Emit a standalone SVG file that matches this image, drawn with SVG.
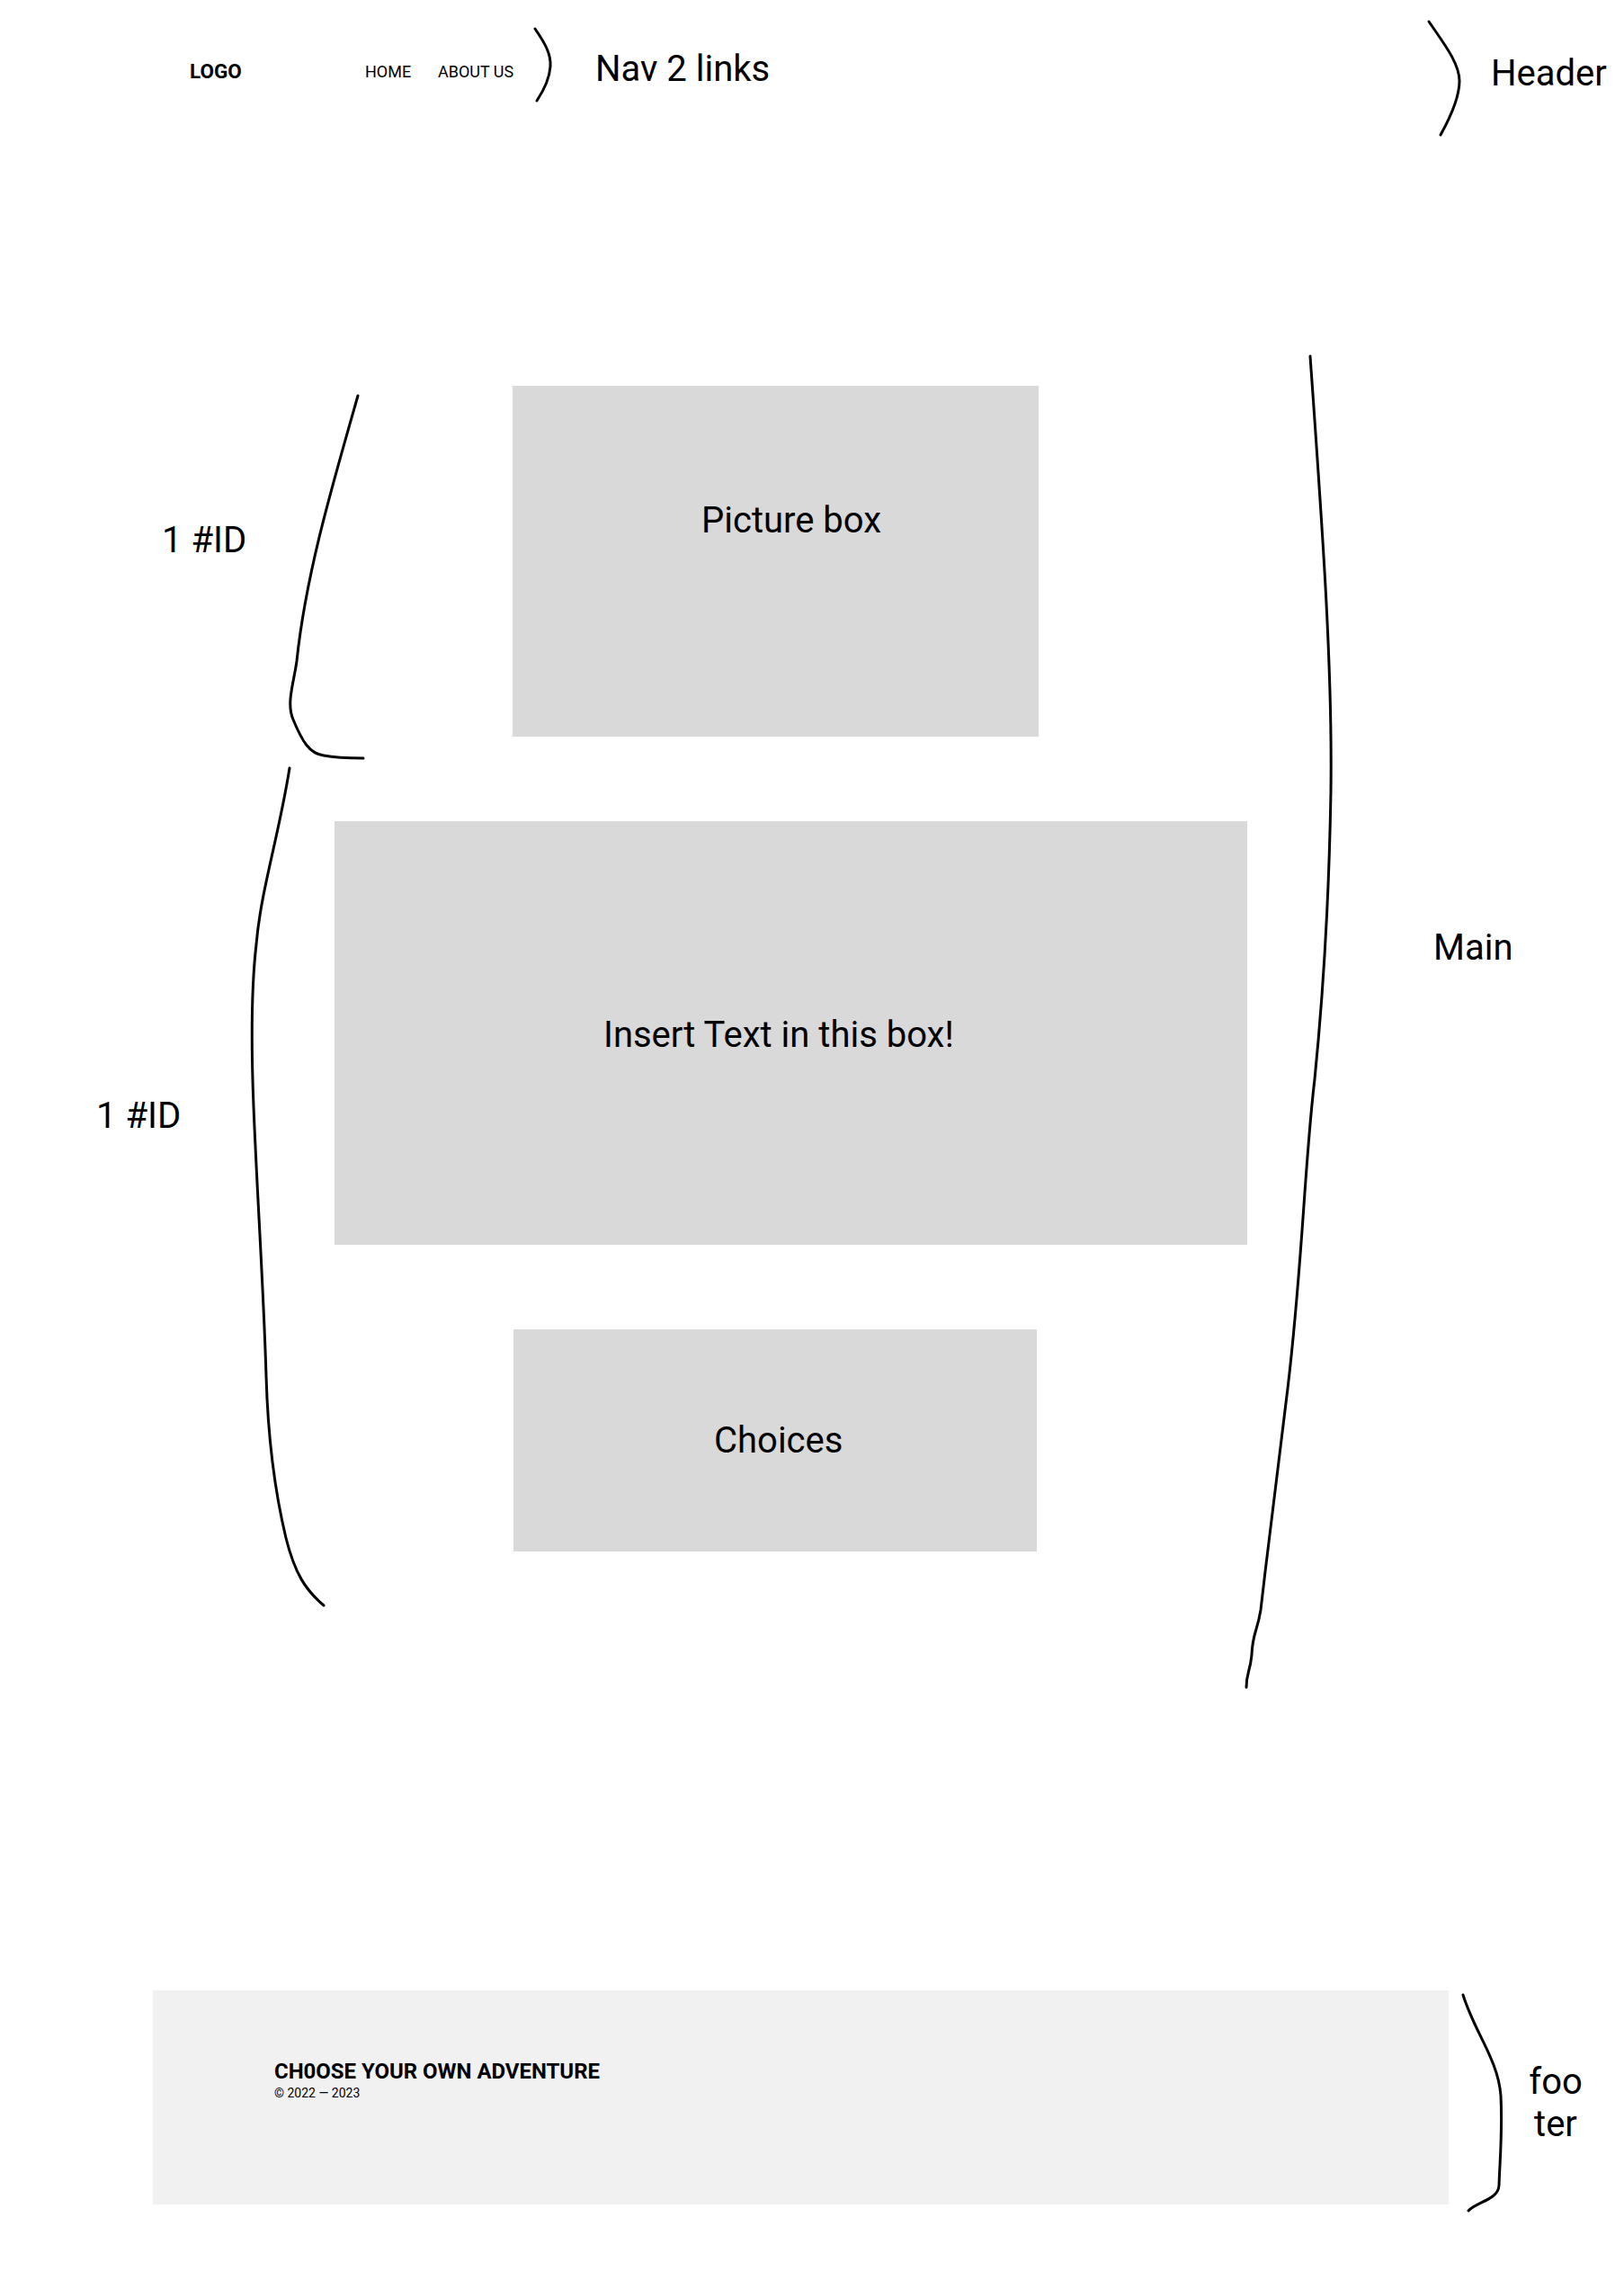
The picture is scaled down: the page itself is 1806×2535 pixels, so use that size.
<svg xmlns="http://www.w3.org/2000/svg" width="1806" height="2535" viewBox="0 0 1806 2535">
  <style>
    text { font-family: Roboto, "Liberation Sans", sans-serif; fill: #000; }
    .lbl { font-size: 40px; }
    .box { fill: #d9d9d9; }
    .brace { fill: none; stroke: #000; stroke-width: 3; stroke-linecap: round; stroke-linejoin: round; }
  </style>
  <rect width="1806" height="2535" fill="#fff"/>

  <!-- header -->
  <g id="header">
    <text x="211" y="87" font-size="22.5" font-weight="bold">LOGO</text>
    <g id="nav">
      <text x="406" y="86" font-size="18">HOME</text>
      <text x="487" y="86" font-size="18">ABOUT US</text>
    </g>
  </g>

  <!-- main content boxes -->
  <g id="picture-box">
    <rect class="box" x="570" y="429" width="585" height="390"/>
    <text class="lbl" x="780" y="592">Picture box</text>
  </g>
  <g id="text-box">
    <rect class="box" x="372" y="913" width="1015" height="471"/>
    <text class="lbl" x="671" y="1164">Insert Text in this box!</text>
  </g>
  <g id="choices">
    <rect class="box" x="571" y="1478" width="582" height="247"/>
    <text class="lbl" x="794" y="1615">Choices</text>
  </g>

  <!-- footer -->
  <g id="footer">
    <rect x="170" y="2213" width="1441" height="238" fill="#f1f1f1"/>
    <text x="305" y="2311" font-size="24" font-weight="bold" textLength="362">CH0OSE YOUR OWN ADVENTURE</text>
    <text x="305" y="2332" font-size="14">© 2022 — 2023</text>
  </g>

  <!-- annotation braces -->
  <g id="braces">
    <path class="brace" d="M595,32 C606,48 613,60 612,74 C611,88 605,100 597,112"/>
    <path class="brace" d="M1589,24 C1604,46 1623,70 1623,90 C1623,110 1612,132 1602,150"/>
    <path class="brace" d="M398,440 C368,545 340,640 330,735 C327,758 318,782 326,800 C336,824 344,838 360,840 C375,843 390,843 404,843"/>
    <path class="brace" d="M322,854 C310,930 290,990 285,1050 C278,1110 280,1180 282,1230 C286,1330 293,1430 296,1530 C298,1600 306,1660 318,1710 C328,1750 340,1768 360,1785"/>
    <path class="brace" d="M1457,396 C1470,580 1482,740 1480,880 C1478,1000 1472,1100 1462,1200 C1450,1300 1448,1420 1430,1560 C1418,1660 1410,1720 1402,1790 C1398,1815 1393,1815 1392,1840 C1390,1860 1386,1860 1386,1876"/>
    <path class="brace" d="M1627,2218 C1640,2260 1666,2290 1669,2330 C1671,2370 1668,2400 1667,2430 C1666,2446 1642,2448 1633,2458"/>
  </g>

  <!-- annotation labels -->
  <g id="labels">
    <text class="lbl" x="662" y="90">Nav 2 links</text>
    <text class="lbl" x="1658" y="95">Header</text>
    <text class="lbl" x="180" y="614">1 #ID</text>
    <text class="lbl" x="107" y="1254">1 #ID</text>
    <text class="lbl" x="1594" y="1067">Main</text>
    <text class="lbl" x="1730" y="2328" text-anchor="middle">foo</text>
    <text class="lbl" x="1730" y="2375" text-anchor="middle">ter</text>
  </g>
</svg>
